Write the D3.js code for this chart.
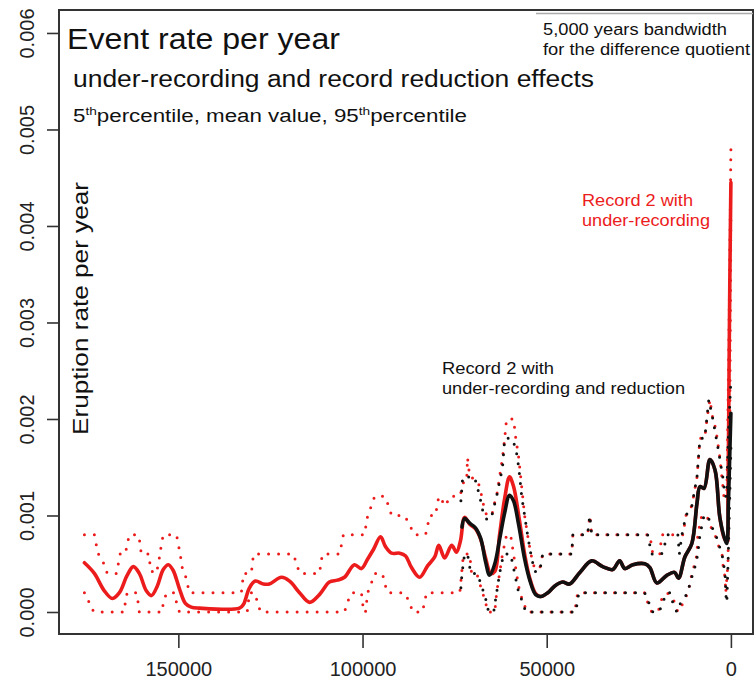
<!DOCTYPE html>
<html>
<head>
<meta charset="utf-8">
<script src="https://cdn.jsdelivr.net/npm/d3@7"></script>
<style>
  html, body { margin: 0; padding: 0; background: #fff; }
  svg { display: block; font-family: "Liberation Sans", Arial, sans-serif; }
</style>
</head>
<body>
<svg id="chart" width="755" height="681"></svg>
<script>
// Axis ticks
const xTicks = [150000, 100000, 50000, 0];
const yTicks = [0, 0.001, 0.002, 0.003, 0.004, 0.005, 0.006];

// Record 2 with under-recording: mean rate [years before present, rate]
const redMean = [
  [175500, 0.00051], [172800, 0.00040], [170100, 0.00022], [167900, 0.00014],
  [166000, 0.00020], [163900, 0.00038], [162200, 0.00047], [160600, 0.00040],
  [158700, 0.00022], [157300, 0.00017], [155700, 0.00027], [154100, 0.00044],
  [152700, 0.00049], [151400, 0.00043], [149700, 0.00024], [148100, 0.00009],
  [146500, 0.00005], [144300, 0.00004], [133400, 0.00004], [132300, 0.00008],
  [130700, 0.00025], [129100, 0.00032], [126900, 0.00029], [125300, 0.00029],
  [122000, 0.00036], [119800, 0.00032], [117100, 0.00020], [114400, 0.00010],
  [111700, 0.00018], [109000, 0.00031], [106800, 0.00033], [104900, 0.00036],
  [102200, 0.00049], [100300, 0.00045], [98600, 0.00055], [97000, 0.00065],
  [95100, 0.00078], [93800, 0.00068], [92100, 0.00061], [89900, 0.00061],
  [88300, 0.00058], [86700, 0.00046], [84500, 0.00036], [82300, 0.00048],
  [80400, 0.00057], [79300, 0.00069], [77700, 0.00056], [75800, 0.00069],
  [74500, 0.00062], [73400, 0.00074], [72300, 0.00098], [70900, 0.00091],
  [69300, 0.00086], [67900, 0.00075], [66600, 0.00056], [65200, 0.00040],
  [64100, 0.00042], [62800, 0.00080], [61400, 0.00118], [60100, 0.00140],
  [59000, 0.00130], [57600, 0.00100], [56000, 0.00060], [54600, 0.00035],
  [53000, 0.00019], [51600, 0.00016], [49700, 0.00020], [47800, 0.00027],
  [45700, 0.00031], [43800, 0.00029], [41000, 0.00041], [37800, 0.00053],
  [34800, 0.00047], [32100, 0.00044], [30200, 0.00053], [28800, 0.00045],
  [26600, 0.00049], [23400, 0.00050], [22000, 0.00046], [20100, 0.00030],
  [17400, 0.00038], [15300, 0.00041], [14200, 0.00035], [12500, 0.00057],
  [10600, 0.00071], [9200, 0.00113], [8400, 0.00130], [7300, 0.00128],
  [5700, 0.00158], [4300, 0.00147], [3000, 0.00098], [1600, 0.00075],
  [1100, 0.00075], [800, 0.0012], [500, 0.0025], [300, 0.0034], [0, 0.00445]
];

// Record 2 with under-recording: 95th percentile
const redUpper = [
  [175500, 0.0008], [172800, 0.0008], [172300, 0.0007], [171700, 0.0006],
  [170700, 0.00055], [169800, 0.00045], [169300, 0.0004], [166800, 0.0004],
  [166300, 0.0005], [165800, 0.0006], [164400, 0.0006], [163900, 0.0007],
  [163300, 0.0008], [160900, 0.0008], [160300, 0.0007], [160100, 0.0006],
  [157900, 0.0006], [157600, 0.00043], [156000, 0.0004], [155400, 0.0005],
  [154600, 0.0007], [154100, 0.0008], [150500, 0.0008], [150000, 0.0007],
  [149500, 0.0006], [148900, 0.00045], [148100, 0.00038], [147600, 0.0003],
  [147000, 0.0002], [132900, 0.0002], [132300, 0.0004], [130200, 0.0004],
  [129600, 0.0006], [118800, 0.0006], [117900, 0.0005], [117100, 0.0004],
  [111700, 0.0004], [110900, 0.0006], [106300, 0.0006], [105700, 0.0007],
  [105200, 0.0008], [99500, 0.0008], [98600, 0.001], [97600, 0.0011],
  [96700, 0.0012], [94000, 0.0012], [92900, 0.0011], [92100, 0.001],
  [88600, 0.001], [87200, 0.0009], [85900, 0.0008], [82900, 0.0008],
  [82300, 0.0009], [81800, 0.001], [80200, 0.001], [79300, 0.0012],
  [77400, 0.0011], [76400, 0.0012], [73600, 0.0012], [72800, 0.0013],
  [72300, 0.0014], [71700, 0.0014], [71500, 0.0016], [70900, 0.0014],
  [69000, 0.00137], [68200, 0.0013], [67100, 0.0011], [66300, 0.001],
  [64900, 0.001], [64400, 0.0011], [63600, 0.0012], [62800, 0.0014],
  [62000, 0.0016], [61400, 0.0018], [60900, 0.002], [59000, 0.002],
  [58400, 0.0018], [57600, 0.0016], [56800, 0.0013], [56000, 0.001],
  [55200, 0.0008], [54300, 0.0006], [53300, 0.00045], [51900, 0.00045],
  [51100, 0.0006], [43200, 0.0006], [42900, 0.0008], [38900, 0.0008],
  [38300, 0.001], [37800, 0.0008], [22000, 0.0008], [21200, 0.0006],
  [19300, 0.0006], [18800, 0.0008], [13000, 0.0008], [12200, 0.001],
  [10600, 0.0011], [9200, 0.0014], [8400, 0.0018], [7100, 0.0018],
  [6500, 0.002], [5700, 0.0022], [4900, 0.002], [4100, 0.0019],
  [3000, 0.0016], [1900, 0.0012], [1100, 0.0012], [500, 0.003], [0, 0.0048]
];

// Record 2 with under-recording: 5th percentile
const redLower = [
  [175500, 0.0002], [174700, 0.00016], [173900, 0.00005], [172800, 0],
  [164700, 0], [164400, 0.0001], [163900, 0.0002], [161400, 0.0002],
  [161100, 0.00015], [160600, 0], [154300, 0], [154100, 0.00012],
  [153000, 0.0002], [151100, 0.0002], [150500, 0.0001], [149700, 0],
  [131300, 0], [130700, 0.0002], [129300, 0.0002], [128500, 0.0001],
  [127700, 0], [104900, 0], [104100, 0.0001], [103000, 0.0002],
  [100300, 0.0002], [100000, 0.0001], [99700, 0], [99200, 0],
  [98600, 0.0002], [97600, 0.0003], [96700, 0.0004], [94600, 0.0004],
  [94000, 0.0003], [93200, 0.0002], [88600, 0.0002], [87200, 0.0001],
  [86400, 0], [83700, 0], [83200, 0.0001], [82600, 0.0002],
  [73600, 0.0002], [73100, 0.0004], [72600, 0.0006], [70900, 0.0006],
  [70400, 0.0004], [69000, 0.0004], [68200, 0.0003], [67400, 0.0002],
  [66600, 0.0001], [66000, 0], [64100, 0], [63600, 0.0002],
  [62800, 0.0004], [62000, 0.0006], [60900, 0.0008], [59800, 0.0008],
  [59000, 0.0006], [58200, 0.0004], [57300, 0.0002], [56300, 0.0001],
  [55400, 0], [42400, 0], [41600, 0.0002], [23400, 0.0002],
  [22600, 0.0001], [21500, 0], [19800, 0], [18800, 0.00013],
  [17400, 0.0002], [15800, 0.00015], [14400, 0], [13300, 0.00007],
  [11700, 0.0002], [11100, 0.0003], [10600, 0.0004], [9800, 0.0005],
  [9200, 0.0006], [9000, 0.0008], [7900, 0.001], [6500, 0.001],
  [5700, 0.0009], [4300, 0.0008], [3500, 0.0007], [2400, 0.0006],
  [2200, 0.0005], [1600, 0.00036], [1400, 0.0002], [800, 0.0005],
  [300, 0.002], [0, 0.0041]
];

// Record 2 with under-recording and reduction: mean rate
const blackMean = [
  [73000, 0.00088], [72300, 0.00097], [70900, 0.00092], [69300, 0.00087],
  [67900, 0.00076], [66600, 0.00052], [65500, 0.00038], [64100, 0.00050],
  [62800, 0.00075], [61400, 0.00103], [60100, 0.00121], [59000, 0.00115],
  [57600, 0.00090], [56000, 0.00055], [54600, 0.00033], [53000, 0.00018],
  [51600, 0.00016], [49700, 0.00020], [47800, 0.00027], [45700, 0.00031],
  [43800, 0.00029], [41000, 0.00041], [37800, 0.00053], [34800, 0.00047],
  [32100, 0.00044], [30200, 0.00053], [28800, 0.00045], [26600, 0.00049],
  [23400, 0.00050], [22000, 0.00046], [20100, 0.00030], [17400, 0.00038],
  [15300, 0.00041], [14200, 0.00035], [12500, 0.00057], [10600, 0.00071],
  [9200, 0.00113], [8400, 0.00130], [7300, 0.00128], [5700, 0.00158],
  [4300, 0.00147], [3000, 0.00098], [1600, 0.00075], [1100, 0.00071],
  [700, 0.0011], [400, 0.0015], [0, 0.00206]
];

// Record 2 with under-recording and reduction: 95th percentile
const blackUpper = [
  [73400, 0.0011], [72800, 0.0014], [69600, 0.0014], [68200, 0.0012],
  [67100, 0.001], [66000, 0.00095], [64900, 0.001], [63600, 0.0012],
  [62000, 0.0015], [61400, 0.0018], [59500, 0.0018], [58400, 0.0017],
  [57600, 0.0015], [56800, 0.0012], [56000, 0.001], [55200, 0.0008],
  [54300, 0.0006], [53300, 0.00042], [51900, 0.00042], [51100, 0.0006],
  [43200, 0.0006], [42900, 0.0008], [38900, 0.0008], [38300, 0.001],
  [37800, 0.0008], [22600, 0.0008], [21500, 0.0006], [18800, 0.0006],
  [17100, 0.0008], [14400, 0.0008], [14000, 0.0006], [13300, 0.0008],
  [12200, 0.001], [10600, 0.0011], [9200, 0.0014], [8400, 0.0018],
  [7100, 0.0018], [6000, 0.0022], [4900, 0.002], [3500, 0.0017],
  [2200, 0.0014], [1600, 0.0012], [1100, 0.0012], [800, 0.0017],
  [500, 0.002], [0, 0.0024]
];

// Record 2 with under-recording and reduction: 5th percentile
const blackLower = [
  [73400, 0.0002], [73000, 0.0004], [72300, 0.0006], [71500, 0.0006],
  [70600, 0.0004], [69000, 0.0004], [67900, 0.0003], [67100, 0.0002],
  [66300, 0.0001], [65800, 0], [64400, 0], [63600, 0.0002],
  [62800, 0.0004], [61700, 0.0006], [59800, 0.0006], [58700, 0.0004],
  [57600, 0.0002], [56500, 0.0001], [55700, 0], [42100, 0],
  [41300, 0.0002], [23400, 0.0002], [22300, 0.0001], [21200, 0],
  [19500, 0], [18500, 0.0001], [17400, 0.0002], [16500, 0.0002],
  [15800, 0.0001], [14700, 0], [13600, 0.0001], [11700, 0.0002],
  [11100, 0.0003], [10300, 0.0004], [9500, 0.0005], [9000, 0.0006],
  [8400, 0.0008], [7300, 0.001], [6300, 0.001], [5400, 0.0009],
  [4100, 0.0008], [3300, 0.0007], [2400, 0.0006], [2000, 0.0005],
  [1600, 0.0004], [1300, 0.00015], [1100, 0.0001], [700, 0.0006],
  [300, 0.0012], [0, 0.0017]
];

const RED = "#ec1c1c";
const INK = "#111";

const svg = d3.select("#chart");
const box = { left: 59, right: 753, top: 10, bottom: 634 };

// Time runs right to left: oldest records on the left, present at the right.
const x = d3.scaleLinear().domain([182400, -6000]).range([box.left, box.right]);
const y = d3.scaleLinear().domain([-0.000228, 0.006238]).range([box.bottom, box.top]);

const smooth = d3.line().x(d => x(d[0])).y(d => y(d[1])).curve(d3.curveCatmullRom.alpha(0.5));
const steps = d3.line().x(d => x(d[0])).y(d => y(d[1]));

// Percentile bands as dotted lines
function dotted(data, color, offset) {
  svg.append("path")
    .attr("d", steps(data))
    .attr("fill", "none")
    .attr("stroke", color)
    .attr("stroke-width", 3)
    .attr("stroke-linecap", "round")
    .attr("stroke-dasharray", "0 10")
    .attr("stroke-dashoffset", offset);
}
function solid(data, color) {
  svg.append("path")
    .attr("d", smooth(data))
    .attr("fill", "none")
    .attr("stroke", color)
    .attr("stroke-width", 3.6)
    .attr("stroke-linejoin", "round")
    .attr("stroke-linecap", "round");
}

solid(redMean, RED);
dotted(redUpper, RED, 0);
dotted(redLower, RED, 0);
solid(blackMean, INK);
dotted(blackUpper, INK, 5);
dotted(blackLower, INK, 5);

// Axes
const xAxis = svg.append("g")
  .attr("transform", `translate(0,${box.bottom})`)
  .call(d3.axisBottom(x).tickValues(xTicks).tickSize(14).tickFormat(d => String(d)));
const yAxis = svg.append("g")
  .attr("transform", `translate(${box.left},0)`)
  .call(d3.axisLeft(y).tickValues(yTicks).tickSize(12).tickFormat(d3.format(".3f")));

[xAxis, yAxis].forEach(a => {
  a.select(".domain").remove();
  a.selectAll(".tick line").attr("stroke", "#333").attr("stroke-width", 1.6);
  a.selectAll(".tick text")
    .attr("fill", "#222")
    .style("font-size", "20px")
    .style("font-family", "'Liberation Sans', Arial, sans-serif");
});
xAxis.selectAll(".tick text").attr("y", 41.5).attr("dy", null);
yAxis.selectAll(".tick text")
  .attr("x", null).attr("dy", null)
  .attr("text-anchor", "middle")
  .attr("transform", "translate(-25,0) rotate(-90)");

// Plot frame
svg.append("rect")
  .attr("x", box.left).attr("y", box.top)
  .attr("width", box.right - box.left).attr("height", box.bottom - box.top)
  .attr("fill", "none").attr("stroke", "#333").attr("stroke-width", 2);

// Bandwidth note, top right
svg.append("line")
  .attr("x1", 536).attr("x2", 753).attr("y1", 13.5).attr("y2", 13.5)
  .attr("stroke", "#aaa").attr("stroke-width", 1.5);

function label(txt, px, py, size, len, color) {
  return svg.append("text")
    .attr("x", px).attr("y", py)
    .attr("fill", color || INK)
    .style("font-size", size + "px")
    .attr("textLength", len)
    .attr("lengthAdjust", "spacingAndGlyphs")
    .text(txt);
}

label("Event rate per year", 67, 49, 29, 273);
label("under-recording and record reduction effects", 73, 87, 23, 521);

const pct = svg.append("text")
  .attr("x", 73).attr("y", 122)
  .attr("fill", INK)
  .style("font-size", "18px")
  .attr("textLength", 394)
  .attr("lengthAdjust", "spacingAndGlyphs");
pct.append("tspan").text("5");
pct.append("tspan").attr("dy", -7).style("font-size", "11px").text("th");
pct.append("tspan").attr("dy", 7).text("percentile, mean value, 95");
pct.append("tspan").attr("dy", -7).style("font-size", "11px").text("th");
pct.append("tspan").attr("dy", 7).text("percentile");

label("5,000 years bandwidth", 543, 34.5, 16, 184);
label("for the difference quotient", 543, 55, 16, 207);

label("Record 2 with", 582, 206, 16, 111, RED);
label("under-recording", 582, 226, 16, 128, RED);

label("Record 2 with", 442, 374, 16, 112);
label("under-recording and reduction", 442, 394, 16, 243);

// Vertical axis title
svg.append("text")
  .attr("transform", "translate(88,308.5) rotate(-90)")
  .attr("text-anchor", "middle")
  .attr("fill", INK)
  .style("font-size", "22px")
  .attr("textLength", 253)
  .attr("lengthAdjust", "spacingAndGlyphs")
  .text("Eruption rate per year");
</script>
</body>
</html>
